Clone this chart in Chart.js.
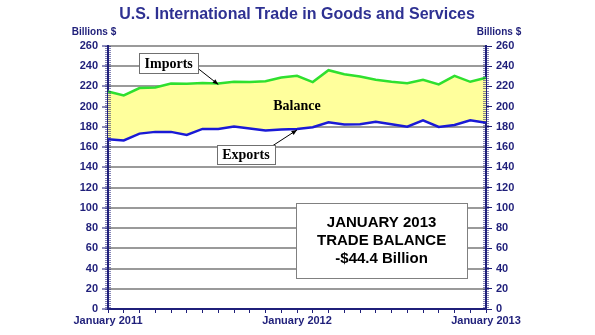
<!DOCTYPE html>
<html>
<head>
<meta charset="utf-8">
<title>U.S. International Trade in Goods and Services</title>
<script src="https://cdn.jsdelivr.net/npm/chart.js@4.4.0/dist/chart.umd.min.js"></script>
<style>
  html, body { margin: 0; padding: 0; background: #fff; }
  #wrap { width: 595px; height: 335px; }
</style>
</head>
<body>
<div id="wrap"><canvas id="chartTrade" width="595" height="335"></canvas></div>
<script>
// monthly values, billions of dollars, Jan 2011 - Jan 2013
const months = [
  'Jan 2011','Feb 2011','Mar 2011','Apr 2011','May 2011','Jun 2011','Jul 2011','Aug 2011',
  'Sep 2011','Oct 2011','Nov 2011','Dec 2011','Jan 2012','Feb 2012','Mar 2012','Apr 2012',
  'May 2012','Jun 2012','Jul 2012','Aug 2012','Sep 2012','Oct 2012','Nov 2012','Dec 2012','Jan 2013'
];
const importsData = [
  215.1, 211.1, 218.4, 219.0, 223.0, 222.6, 223.3, 223.0, 224.6, 224.3, 225.2, 228.9,
  230.5, 224.3, 236.1, 232.1, 229.8, 226.6, 224.6, 223.3, 226.6, 222.0, 230.5, 224.6, 228.6
];
const exportsData = [
  167.9, 166.6, 173.4, 175.1, 175.1, 172.1, 178.0, 178.0, 180.3, 178.4, 176.4, 177.4,
  178.0, 179.7, 184.6, 182.3, 182.6, 185.2, 182.6, 180.3, 186.6, 180.0, 182.0, 186.6, 184.2
];
const yTicks = [0, 20, 40, 60, 80, 100, 120, 140, 160, 180, 200, 220, 240, 260];

const NAVY = '#1f1f7a';
const TITLE_BLUE = '#2e3192';
const SANS = '"Liberation Sans", Arial, sans-serif';
const SERIF = '"Liberation Serif", "Times New Roman", serif';

const lastIdx = months.length - 1;
const balance = exportsData[lastIdx] - importsData[lastIdx];
const balanceText = (balance < 0 ? '-$' : '$') + Math.abs(balance).toFixed(1) + ' Billion';
const lastYear = months[lastIdx].split(' ')[1];

// short minor ticks along both value axes
const minorTicks = {
  id: 'minorTicks',
  afterDraw(chart) {
    const c = chart.ctx;
    const ys = chart.scales.y;
    const area = chart.chartArea;
    c.save();
    c.strokeStyle = 'rgba(31,31,122,0.55)';
    c.lineWidth = 1;
    for (let v = 0; v <= 260; v += 2) {
      const py = Math.round(ys.getPixelForValue(v)) + 0.5;
      c.beginPath();
      c.moveTo(area.left - 3, py); c.lineTo(area.left + 3, py);
      c.moveTo(area.right - 3, py); c.lineTo(area.right + 3, py);
      c.stroke();
    }
    c.restore();
  }
};

function arrow(c, x1, y1, x2, y2) {
  const a = Math.atan2(y2 - y1, x2 - x1);
  c.beginPath();
  c.moveTo(x1, y1); c.lineTo(x2, y2);
  c.stroke();
  c.beginPath();
  c.moveTo(x2, y2);
  c.lineTo(x2 - 6 * Math.cos(a - 0.4), y2 - 6 * Math.sin(a - 0.4));
  c.lineTo(x2 - 6 * Math.cos(a + 0.4), y2 - 6 * Math.sin(a + 0.4));
  c.closePath();
  c.fill();
}

function labelBox(c, cx, cy, w, h, text) {
  c.fillStyle = '#fff';
  c.fillRect(cx - w / 2, cy - h / 2, w, h);
  c.strokeStyle = '#707070';
  c.lineWidth = 1;
  c.strokeRect(Math.round(cx - w / 2) + 0.5, Math.round(cy - h / 2) + 0.5, w, h);
  c.fillStyle = '#000';
  c.font = 'bold 14px ' + SERIF;
  c.textAlign = 'center';
  c.textBaseline = 'middle';
  c.fillText(text, cx, cy + 1);
}

// series labels, arrows and the summary box
const notes = {
  id: 'notes',
  afterDatasetsDraw(chart) {
    const c = chart.ctx;
    const xs = chart.scales.x, ys = chart.scales.y;
    c.save();

    c.fillStyle = '#000';
    c.font = 'bold 14px ' + SERIF;
    c.textAlign = 'center';
    c.textBaseline = 'middle';
    c.fillText('Balance', xs.getPixelForValue(12), ys.getPixelForValue(200));

    // Imports
    const ix = xs.getPixelForValue(3.85), iy = ys.getPixelForValue(243);
    c.strokeStyle = '#000'; c.fillStyle = '#000'; c.lineWidth = 1;
    arrow(c, ix + 29, iy + 5, xs.getPixelForValue(7), ys.getPixelForValue(importsData[7]) + 1);
    labelBox(c, ix, iy, 59, 20, 'Imports');

    // Exports
    const ex = xs.getPixelForValue(8.76), ey = ys.getPixelForValue(152.7);
    c.strokeStyle = '#000'; c.fillStyle = '#000'; c.lineWidth = 1;
    arrow(c, ex + 27, ey - 9, xs.getPixelForValue(12), ys.getPixelForValue(exportsData[12]) + 1);
    labelBox(c, ex, ey, 58, 19, 'Exports');

    // trade balance box
    const bx = xs.getPixelForValue(17.37), by = ys.getPixelForValue(67.7);
    const bw = 171, bh = 75;
    c.fillStyle = '#fff';
    c.fillRect(bx - bw / 2, by - bh / 2, bw, bh);
    c.strokeStyle = '#808080';
    c.strokeRect(Math.round(bx - bw / 2) + 0.5, Math.round(by - bh / 2) + 0.5, bw, bh);
    c.fillStyle = '#000';
    c.font = 'bold 15px ' + SANS;
    c.textAlign = 'center';
    c.textBaseline = 'middle';
    c.fillText('JANUARY ' + lastYear, bx, by - 18);
    c.fillText('TRADE BALANCE', bx, by);
    c.fillText(balanceText, bx, by + 18);

    c.restore();
  },
  afterDraw(chart) {
    const c = chart.ctx;
    const area = chart.chartArea;
    c.save();
    c.fillStyle = TITLE_BLUE;
    c.font = 'bold 16px ' + SANS;
    c.textAlign = 'center';
    c.textBaseline = 'middle';
    c.fillText('U.S. International Trade in Goods and Services', 297, 15);
    c.fillStyle = NAVY;
    c.font = 'bold 10px ' + SANS;
    c.fillText('Billions $', area.left - 14, 32);
    c.fillText('Billions $', area.right + 13, 32);
    c.restore();
  }
};

const axisTicks = {
  color: NAVY,
  font: { family: SANS, size: 11, weight: 'bold' },
  padding: 4,
  autoSkip: false
};

const ctx = document.getElementById('chartTrade').getContext('2d');
const chart = new Chart(ctx, {
  type: 'line',
  data: {
    labels: months,
    datasets: [
      {
        // drawn first so the fill stays under the exports line
        label: 'Imports',
        data: importsData,
        order: 2,
        borderColor: '#2fe02f',
        borderWidth: 2.5,
        pointRadius: 0,
        tension: 0,
        fill: '+1',
        backgroundColor: '#ffff9c'
      },
      {
        label: 'Exports',
        data: exportsData,
        order: 1,
        borderColor: '#1a1ad6',
        borderWidth: 2.5,
        pointRadius: 0,
        tension: 0,
        fill: false
      }
    ]
  },
  options: {
    responsive: false,
    animation: false,
    devicePixelRatio: 1,
    layout: { padding: { top: 46, left: 0, right: 0, bottom: 0 } },
    plugins: {
      legend: { display: false },
      tooltip: { enabled: false },
      title: { display: false }
    },
    scales: {
      x: {
        type: 'category',
        offset: false,
        grid: { drawOnChartArea: false, tickLength: 4, tickColor: NAVY, tickWidth: 1 },
        border: { color: NAVY, width: 2 },
        ticks: {
          ...axisTicks,
          padding: 1,
          maxRotation: 0,
          callback: (v, i) => i % 12 === 0 ? 'January ' + months[i].split(' ')[1] : ''
        },
        afterFit(s) { s.height = 26; }
      },
      y: {
        position: 'left',
        min: 0, max: 260,
        afterBuildTicks(s) { s.ticks = yTicks.map(v => ({ value: v })); },
        grid: { color: '#9a9a9a', lineWidth: 2, tickLength: 6, tickColor: NAVY, tickWidth: 1 },
        border: { color: NAVY, width: 2 },
        ticks: { ...axisTicks },
        afterFit(s) { s.width = 108; }
      },
      y2: {
        position: 'right',
        min: 0, max: 260,
        afterBuildTicks(s) { s.ticks = yTicks.map(v => ({ value: v })); },
        grid: { drawOnChartArea: false, tickLength: 6, tickColor: NAVY, tickWidth: 1 },
        border: { color: NAVY, width: 2 },
        ticks: { ...axisTicks },
        afterFit(s) { s.width = 109; }
      }
    }
  },
  plugins: [minorTicks, notes]
});
</script>
</body>
</html>
